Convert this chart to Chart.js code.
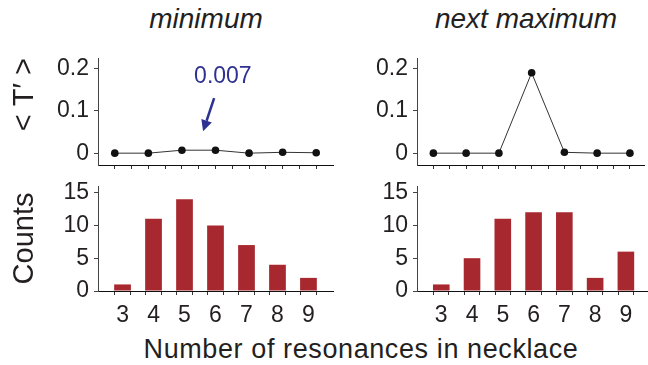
<!DOCTYPE html>
<html lang="en">
<head>
    <meta charset="UTF-8">
    <title>Resonances in necklace</title>
    <style>
        body {
            margin: 0;
            width: 648px;
            height: 365px;
            background: #ffffff;
            position: relative;
            overflow: hidden;
            font-family: "Liberation Sans", Arial, sans-serif;
            color: #231f20;
        }
        .panel {
            position: absolute;
        }
        .title {
            position: absolute;
            font-style: italic;
            font-size: 28px;
            line-height: 28px;
            white-space: nowrap;
            transform: translateX(-50%);
        }
        .xtitle {
            position: absolute;
            font-size: 27px;
            line-height: 28px;
            letter-spacing: 0.6px;
            white-space: nowrap;
            transform: translateX(-50%);
        }
    </style>
    <script src="https://cdn.jsdelivr.net/npm/chart.js"></script>
</head>
<body>
    <div class="title" style="left:206px; top:5px;">minimum</div>
    <div class="title" style="left:526px; top:5px;">next maximum</div>

    <div class="panel" style="left:0; top:50px; width:340px; height:123px;"><canvas id="topLeft"></canvas></div>
    <div class="panel" style="left:340px; top:50px; width:308px; height:123px;"><canvas id="topRight"></canvas></div>
    <div class="panel" style="left:0; top:176px; width:340px; height:155px;"><canvas id="botLeft"></canvas></div>
    <div class="panel" style="left:340px; top:176px; width:308px; height:155px;"><canvas id="botRight"></canvas></div>

    <div class="xtitle" style="left:361px; top:335px;">Number of resonances in necklace</div>

    <script>
        const resonances = [3, 4, 5, 6, 7, 8, 9];
        const tMinimum = [0, 0, 0.007, 0.007, 0, 0.002, 0.001];
        const tNextMax = [0, 0, 0, 0.19, 0.002, 0, 0];
        const countsMinimum = [1, 11, 14, 10, 7, 4, 2];
        const countsNextMax = [1, 5, 11, 12, 12, 2, 6];
        const tTicks = [0, 0.05, 0.1, 0.15, 0.2];
        const countTicks = [0, 2.5, 5, 7.5, 10, 12.5, 15];
        const xTicks = [3, 3.5, 4, 4.5, 5, 5.5, 6, 6.5, 7, 7.5, 8, 8.5, 9];

        const ink = '#231f20';
        const barRed = '#a8282f';
        const noteBlue = '#2e3192';
        const tickFont = { family: '"Liberation Sans", Arial, sans-serif', size: 23 };

        function pairs(ys) {
            return resonances.map((x, i) => ({ x: x, y: ys[i] }));
        }

        function yAxis(ticksList, min, max, width, title, titleAlign, decimals) {
            return {
                type: 'linear',
                min: min,
                max: max,
                afterBuildTicks: s => { s.ticks = ticksList.map(v => ({ value: v })); },
                afterFit: s => {
                    s.width = width;
                    s.paddingTop = 0;
                    s.paddingBottom = 0;
                },
                border: { color: '#444', width: 1 },
                grid: { drawOnChartArea: false, drawTicks: true, tickLength: 4, tickColor: '#444' },
                ticks: {
                    color: ink,
                    font: tickFont,
                    padding: 5,
                    callback: v => {
                        if (decimals) {
                            return Math.abs(v * 10 - Math.round(v * 10)) < 1e-6 ? (v === 0 ? '0' : v.toFixed(1)) : '';
                        }
                        return v % 5 === 0 ? String(v) : '';
                    }
                },
                title: title ? {
                    display: true,
                    text: title,
                    align: titleAlign,
                    color: ink,
                    font: { family: '"Liberation Sans", Arial, sans-serif', size: 29 },
                    padding: { top: 8, bottom: 0 }
                } : { display: false }
            };
        }

        function xAxis(max, height, showLabels) {
            return {
                type: 'linear',
                min: 2.5,
                max: max,
                afterBuildTicks: s => { s.ticks = xTicks.map(v => ({ value: v })); },
                afterFit: s => {
                    s.height = height;
                    s.paddingLeft = 0;
                    s.paddingRight = 0;
                },
                border: { color: '#111', width: 1 },
                grid: { drawOnChartArea: false, drawTicks: true, tickLength: 4, tickColor: '#333' },
                ticks: {
                    color: ink,
                    font: tickFont,
                    padding: 7,
                    maxRotation: 0,
                    autoSkip: false,
                    callback: v => (showLabels && Number.isInteger(v)) ? String(v) : ''
                }
            };
        }

        // arrow + label pointing at the small bump in the left panel
        const notePlugin = {
            id: 'note',
            afterDatasetsDraw(chart) {
                const xs = chart.scales.x, ys = chart.scales.y, ctx = chart.ctx;
                const tx = xs.getPixelForValue(6.22), ty = ys.getPixelForValue(0.18);
                const x0 = xs.getPixelForValue(5.96), y0 = ys.getPixelForValue(0.13);
                const x1 = xs.getPixelForValue(5.63), y1 = ys.getPixelForValue(0.052);
                ctx.save();
                ctx.fillStyle = noteBlue;
                ctx.strokeStyle = noteBlue;
                ctx.font = '23px "Liberation Sans", Arial, sans-serif';
                ctx.textAlign = 'center';
                ctx.textBaseline = 'middle';
                ctx.fillText('0.007', tx, ty);
                const ang = Math.atan2(y1 - y0, x1 - x0);
                const head = 11;
                const bx = x1 - head * Math.cos(ang), by = y1 - head * Math.sin(ang);
                ctx.lineWidth = 2.5;
                ctx.beginPath();
                ctx.moveTo(x0, y0);
                ctx.lineTo(bx, by);
                ctx.stroke();
                ctx.beginPath();
                ctx.moveTo(x1, y1);
                ctx.lineTo(bx + 5.5 * Math.cos(ang + Math.PI / 2), by + 5.5 * Math.sin(ang + Math.PI / 2));
                ctx.lineTo(bx + 5.5 * Math.cos(ang - Math.PI / 2), by + 5.5 * Math.sin(ang - Math.PI / 2));
                ctx.closePath();
                ctx.fill();
                ctx.restore();
            }
        };

        function lineChart(id, values, xMax, yWidth, title, padRight, plugins) {
            new Chart(document.getElementById(id), {
                type: 'line',
                data: {
                    datasets: [{
                        data: pairs(values),
                        borderColor: '#333',
                        borderWidth: 1,
                        pointRadius: 3.8,
                        pointBackgroundColor: '#111',
                        pointBorderColor: '#111',
                        pointBorderWidth: 0,
                        tension: 0,
                        clip: false
                    }]
                },
                options: {
                    responsive: true,
                    maintainAspectRatio: false,
                    animation: false,
                    events: [],
                    layout: { padding: { top: 8, right: padRight, left: 0, bottom: 0 } },
                    plugins: { legend: { display: false }, tooltip: { enabled: false } },
                    scales: {
                        x: xAxis(xMax, 8, false),
                        y: yAxis(tTicks, -0.028, 0.225, yWidth, title, 'end', true)
                    }
                },
                plugins: plugins || []
            });
        }

        function barChart(id, values, xMax, yWidth, title, padRight) {
            new Chart(document.getElementById(id), {
                type: 'bar',
                data: {
                    datasets: [{
                        data: pairs(values),
                        backgroundColor: barRed,
                        borderWidth: 0,
                        // ruler spacing follows the half-step ticks, so double the share
                        barPercentage: 1.08,
                        categoryPercentage: 1
                    }]
                },
                options: {
                    responsive: true,
                    maintainAspectRatio: false,
                    animation: false,
                    events: [],
                    layout: { padding: { top: 10, right: padRight, left: 0, bottom: 0 } },
                    plugins: { legend: { display: false }, tooltip: { enabled: false } },
                    scales: {
                        x: xAxis(xMax, 40, true),
                        y: yAxis(countTicks, 0, 16, yWidth, title, 'center', false)
                    }
                }
            });
        }

        lineChart('topLeft', tMinimum, 9.5, 98, '< T\u2032 >', 7, [notePlugin]);
        lineChart('topRight', tNextMax, 9.43, 77, null, 0);
        barChart('botLeft', countsMinimum, 9.5, 98, 'Counts', 7);
        barChart('botRight', countsNextMax, 9.43, 77, null, 0);
    </script>
</body>
</html>
